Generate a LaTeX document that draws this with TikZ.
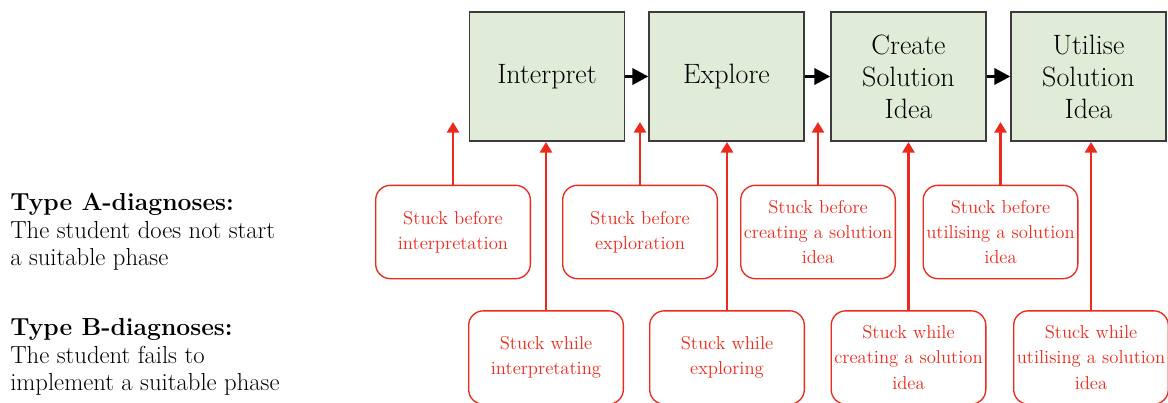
\documentclass[tikz,border=0pt]{standalone}
\usepackage{tikz}
\usetikzlibrary{arrows.meta}

\definecolor{phasegreen}{RGB}{224,236,215}
\definecolor{phaseline}{RGB}{60,60,60}
\definecolor{stuckred}{RGB}{236,42,28}

\tikzset{
  phase/.style={draw=phaseline, line width=1.2pt, fill=phasegreen, minimum width=116pt,
    minimum height=97pt, align=center, font=\fontsize{21}{24}\selectfont, inner sep=2pt},
  stuck/.style={draw=stuckred, line width=1pt, rounded corners=11pt, text=stuckred,
    minimum width=116pt, minimum height=70pt, align=center,
    font=\fontsize{14}{19}\selectfont, inner sep=1pt},
  flow/.style={-{Triangle[width=12pt,length=12pt]}, line width=2.6pt},
  hint/.style={-{Triangle[width=9pt,length=8pt]}, line width=2pt, stuckred},
  legend/.style={anchor=west, align=left, font=\fontsize{18.5}{20.5}\selectfont, inner sep=0pt}
}

\begin{document}
\begin{tikzpicture}[x=0.75pt, y=-0.75pt]
  \useasboundingbox (0,0) rectangle (1168,403);

  % phases
  \node[phase] (p1) at (547,76.5) {Interpret};
  \node[phase] (p2) at (726.5,76.5) {Explore};
  \node[phase] (p3) at (908.5,76.5) {Create\\Solution\\Idea};
  \node[phase] (p4) at (1088.5,76.5) {Utilise\\Solution\\Idea};
  \foreach \a/\b in {p1/p2, p2/p3, p3/p4}
    \draw[flow] (\a.east) -- (\b.west);

  % type A: stuck before a phase
  \node[stuck] (b1) at (453,232) {Stuck before\\interpretation};
  \node[stuck] (b2) at (640,232) {Stuck before\\exploration};
  \node[stuck] (b3) at (818,232) {Stuck before\\creating a solution\\idea};
  \node[stuck] (b4) at (1000.5,232) {Stuck before\\utilising a solution\\idea};
  \foreach \i in {1,...,4}{
    \coordinate (t\i) at (b\i.north |- 0,122);
    \draw[hint] (b\i.north) -- (t\i);
  }

  % type B: stuck while in a phase
  \node[stuck] (w1) at (546,357.5) {Stuck while\\interpretating};
  \node[stuck] (w2) at (727,357.5) {Stuck while\\exploring};
  \node[stuck] (w3) at (908.5,357.5) {Stuck while\\creating a solution\\idea};
  \node[stuck] (w4) at (1091,357.5) {Stuck while\\utilising a solution\\idea};
  \foreach \i in {1,...,4}
    \draw[hint] (w\i.north) -- (w\i.north |- p\i.south);

  % legend
  \node[legend] (typeA) at (10,232) {\textbf{Type A-diagnoses:}\\The student does not start\\a suitable phase};
  \node[legend] (typeB) at (10,357) {\textbf{Type B-diagnoses:}\\The student fails to\\implement a suitable phase};
\end{tikzpicture}
\end{document}
